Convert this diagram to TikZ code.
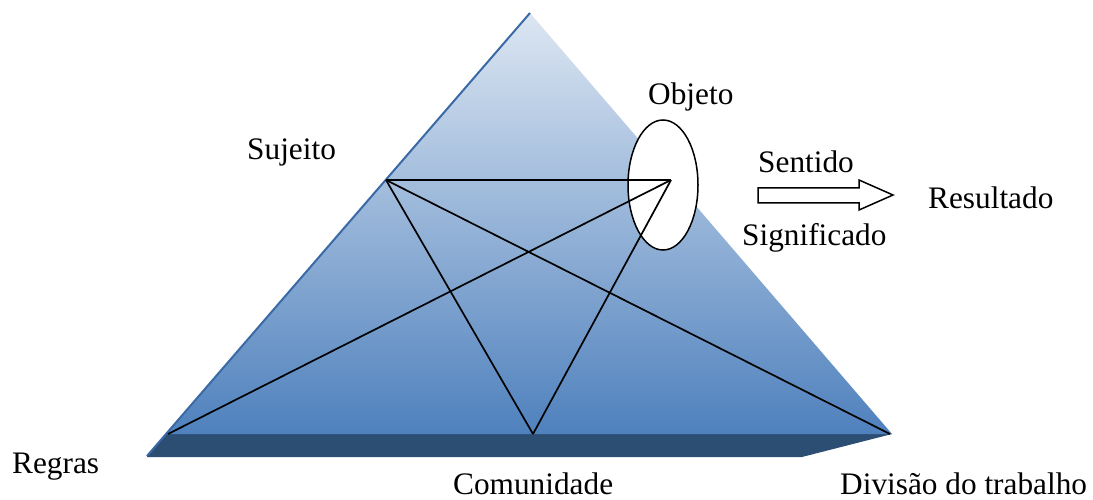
\documentclass[tikz,border=0pt]{standalone}
\usepackage{fontspec}
\setmainfont{Liberation Serif}
\usetikzlibrary{shapes.geometric}
\definecolor{toplight}{HTML}{DCE6F2}
\definecolor{botblue}{HTML}{4F81BD}
\definecolor{banddark}{HTML}{2D4E73}
\definecolor{edgeblue}{HTML}{3A6AA5}
\begin{document}
\begin{tikzpicture}[x=1pt,y=-1pt,
  lbl/.style={anchor=base west,inner sep=0pt,font=\fontsize{31.3}{31.3}\selectfont},
  link/.style={black,line width=1.7pt},
  outl/.style={draw=black,line width=1.5pt,fill=white}]
\useasboundingbox (0,0) rectangle (1093,500);
% pyramid geometry
\coordinate (apex) at (530,13);
\coordinate (bl) at (147,456);
\coordinate (fl) at (166,434);
\coordinate (fr) at (892,434);
\coordinate (br) at (802,457);
% band
\fill[banddark] (bl) -- (fl) -- (fr) -- (br) -- (147,457) -- cycle;
% front face
\shade[top color=toplight,bottom color=botblue] (apex) -- (fl) -- (fr) -- cycle;
\draw[edgeblue,line width=2pt] (apex) -- (bl);
% points
\coordinate (S) at (386,180);
\coordinate (O) at (671,180);
\coordinate (R) at (168,434);
\coordinate (C) at (533,434);
\coordinate (D) at (890,434);
% ellipse
\node[ellipse,outl,minimum width=70,minimum height=130,inner sep=0pt] (ell) at (663,185) {};
% lines
\draw[link] (S) -- (O);
\draw[link] (S) -- (C);
\draw[link] (S) -- (D);
\draw[link] (O) -- (R);
\draw[link] (O) -- (C);
% block arrow
\draw[outl] (758,188) -- (859,188) -- (859,180) -- (893,195) -- (859,210) -- (859,203) -- (758,203) -- cycle;
% labels
\node[lbl] (tS) at (247,160) {Sujeito};
\node[lbl] (tO) at (648,105) {Objeto};
\node[lbl] (tSe) at (758,172) {Sentido};
\node[lbl] (tSi) at (742,245) {Significado};
\node[lbl] (tRe) at (928,208) {Resultado};
\node[lbl] (tR) at (12,473) {Regras};
\node[lbl] (tC) at (453,494) {Comunidade};
\node[lbl] (tD) at (840,494) {Divisão do trabalho};
\end{tikzpicture}
\end{document}
